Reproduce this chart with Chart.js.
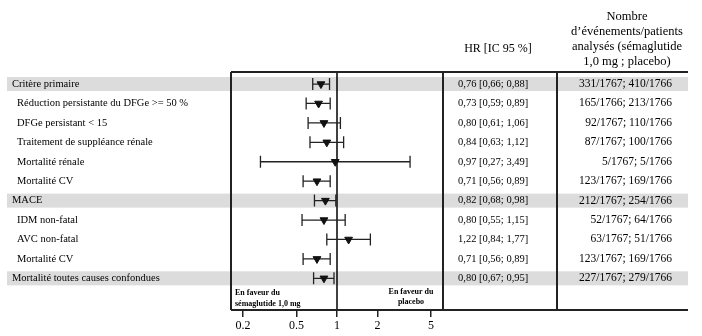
<!DOCTYPE html>
<html>
<head>
<meta charset="utf-8">
<script src="https://cdn.jsdelivr.net/npm/chart.js@4/dist/chart.umd.min.js"></script>
<style>
  html, body { margin: 0; padding: 0; background: #fff; }
</style>
</head>
<body>
<canvas id="chart" width="702" height="336"></canvas>
<script>
// lignes du forest plot
const labels = [
  'Critère primaire',
  'Réduction persistante du DFGe >= 50 %',
  'DFGe persistant < 15',
  'Traitement de suppléance rénale',
  'Mortalité rénale',
  'Mortalité CV',
  'MACE',
  'IDM non-fatal',
  'AVC non-fatal',
  'Mortalité CV',
  'Mortalité toutes causes confondues'
];
const isHeader = [1, 0, 0, 0, 0, 0, 1, 0, 0, 0, 1];

// HR et IC 95 %
const hr = [0.76, 0.73, 0.80, 0.84, 0.97, 0.71, 0.82, 0.80, 1.22, 0.71, 0.80];
const lo = [0.66, 0.59, 0.61, 0.63, 0.27, 0.56, 0.68, 0.55, 0.84, 0.56, 0.67];
const hi = [0.88, 0.89, 1.06, 1.12, 3.49, 0.89, 0.98, 1.15, 1.77, 0.89, 0.95];

const counts = [
  '331/1767; 410/1766',
  '165/1766; 213/1766',
  '92/1767; 110/1766',
  '87/1767; 100/1766',
  '5/1767; 5/1766',
  '123/1767; 169/1766',
  '212/1767; 254/1766',
  '52/1767; 64/1766',
  '63/1767; 51/1766',
  '123/1767; 169/1766',
  '227/1767; 279/1766'
];

const xTicks = [0.2, 0.5, 1, 2, 5];

const serif = '"Liberation Serif", "DejaVu Serif", serif';
const fr = v => v.toFixed(2).replace('.', ',');

// fond gris, ligne de référence et barres d'erreur
const forestPlugin = {
  id: 'forest',
  beforeDatasetsDraw(chart) {
    const ctx = chart.ctx, xs = chart.scales.x, ys = chart.scales.y, a = chart.chartArea;
    ctx.save();
    ctx.fillStyle = '#dcdcdc';
    isHeader.forEach((h, i) => {
      if (!h) return;
      const py = ys.getPixelForValue(i);
      ctx.fillRect(7, py - 7, 681, 14);
    });
    ctx.strokeStyle = '#000';
    ctx.lineWidth = 1.5;
    const p1 = xs.getPixelForValue(1);
    ctx.beginPath();
    ctx.moveTo(p1, a.top);
    ctx.lineTo(p1, a.bottom);
    ctx.stroke();
    ctx.strokeStyle = '#222';
    ctx.lineWidth = 1.3;
    hr.forEach((v, i) => {
      const py = ys.getPixelForValue(i);
      const l = xs.getPixelForValue(lo[i]);
      const h = xs.getPixelForValue(hi[i]);
      ctx.beginPath();
      ctx.moveTo(l, py); ctx.lineTo(h, py);
      ctx.moveTo(l, py - 6); ctx.lineTo(l, py + 6);
      ctx.moveTo(h, py - 6); ctx.lineTo(h, py + 6);
      ctx.stroke();
    });
    ctx.restore();
  },
  afterDraw(chart) {
    const ctx = chart.ctx, ys = chart.scales.y, a = chart.chartArea;
    ctx.save();
    // cadre et tableau
    ctx.strokeStyle = '#222';
    ctx.lineWidth = 2;
    ctx.beginPath();
    ctx.moveTo(a.left, a.top); ctx.lineTo(688, a.top);
    ctx.moveTo(a.left, a.bottom); ctx.lineTo(688, a.bottom);
    ctx.moveTo(a.left, a.top); ctx.lineTo(a.left, a.bottom);
    ctx.moveTo(a.right, a.top); ctx.lineTo(a.right, a.bottom);
    ctx.moveTo(557, a.top); ctx.lineTo(557, a.bottom);
    ctx.stroke();

    ctx.fillStyle = '#000';
    ctx.textBaseline = 'middle';
    labels.forEach((t, i) => {
      const py = ys.getPixelForValue(i);
      ctx.font = '10.5px ' + serif;
      ctx.textAlign = 'left';
      ctx.fillText(t, isHeader[i] ? 12 : 17, py);
      ctx.font = '10.5px ' + serif;
      ctx.fillText(fr(hr[i]) + ' [' + fr(lo[i]) + '; ' + fr(hi[i]) + ']', 458, py);
      ctx.font = '11.5px ' + serif;
      ctx.textAlign = 'right';
      ctx.fillText(counts[i], 672, py);
    });

    // en-têtes
    ctx.textAlign = 'center';
    ctx.font = '12px ' + serif;
    ctx.fillText('HR [IC 95 %]', 498, 49);
    ctx.font = '12.5px ' + serif;
    ['Nombre', 'd\u2019événements/patients', 'analysés (sémaglutide', '1,0 mg ; placebo)']
      .forEach((t, k) => ctx.fillText(t, 627, 17 + k * 15));

    // annotations sous le graphique
    ctx.font = 'bold 8px ' + serif;
    ctx.textAlign = 'left';
    ctx.fillText('En faveur du', 235, 293);
    ctx.fillText('sémaglutide 1,0 mg', 235, 304);
    ctx.textAlign = 'center';
    ctx.fillText('En faveur du', 411, 292);
    ctx.fillText('placebo', 411, 302);
    ctx.restore();
  }
};

const chart = new Chart(document.getElementById('chart'), {
  type: 'scatter',
  data: {
    datasets: [{
      data: hr.map((v, i) => ({ x: v, y: i })),
      pointStyle: 'triangle',
      rotation: 180,
      radius: 4.5,
      backgroundColor: '#111',
      borderColor: '#111',
      borderWidth: 1
    }]
  },
  options: {
    responsive: false,
    animation: false,
    layout: { padding: { left: 231, right: 259, top: 72, bottom: 0 } },
    plugins: { legend: { display: false }, tooltip: { enabled: false } },
    scales: {
      x: {
        type: 'logarithmic',
        min: 1 / 6.13,
        max: 6.13,
        afterBuildTicks: s => { s.ticks = xTicks.map(v => ({ value: v })); },
        afterFit: s => { s.height = 26; },
        ticks: {
          autoSkip: false,
          maxRotation: 0,
          color: '#000',
          padding: 2,
          font: { family: serif, size: 12 },
          callback: v => String(v)
        },
        grid: { drawOnChartArea: false, tickLength: 7, color: '#222', lineWidth: 1.5 },
        border: { display: false }
      },
      y: {
        display: false,
        reverse: true,
        min: -0.62,
        max: 11.63
      }
    }
  },
  plugins: [forestPlugin]
});
</script>
</body>
</html>
